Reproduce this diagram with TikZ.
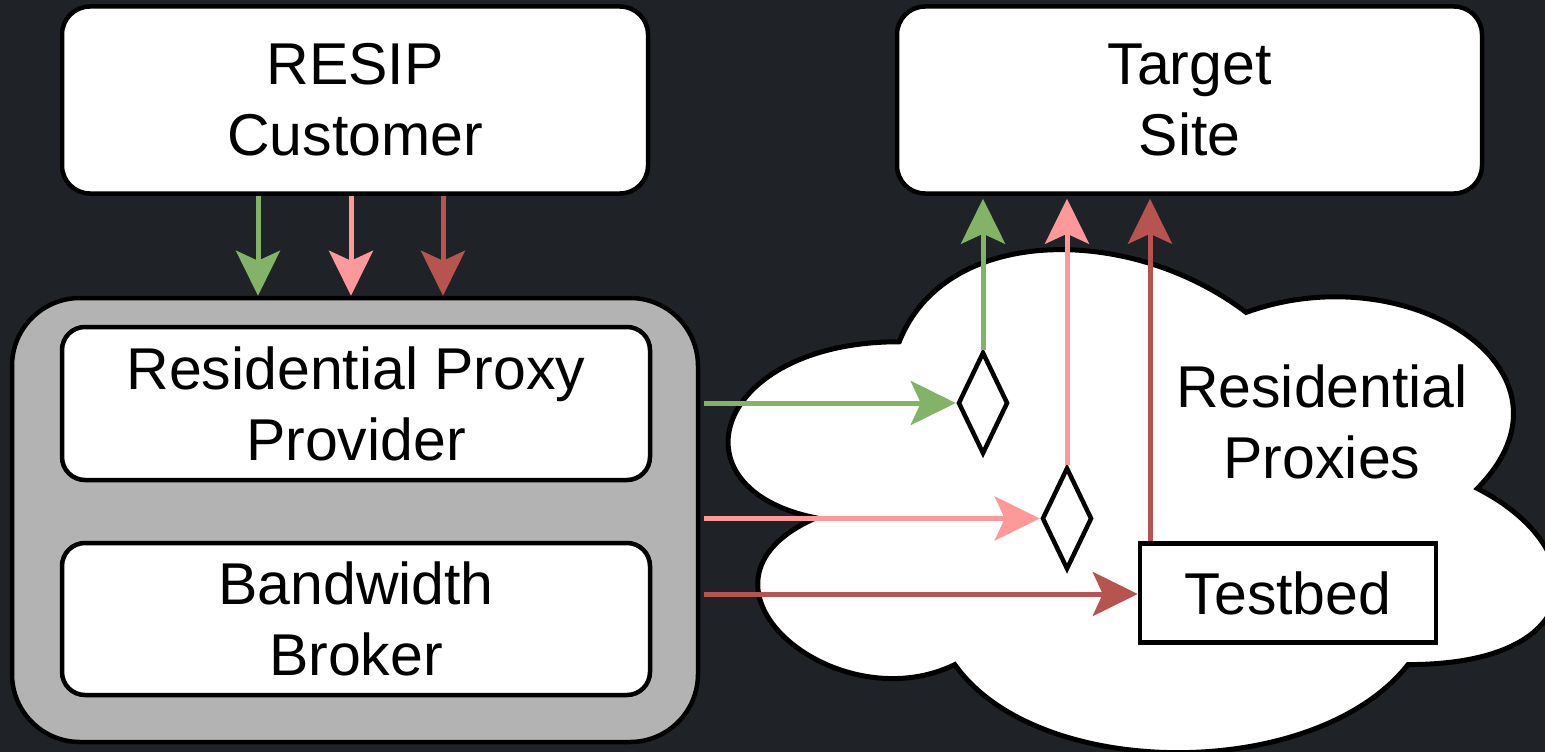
\documentclass[tikz,border=0pt]{standalone}
\usepackage{fontspec}
\setmainfont{Liberation Sans}
\usetikzlibrary{shapes.geometric,arrows.meta}
\definecolor{bg}{HTML}{1F2328}
\definecolor{cgreen}{HTML}{82B366}
\definecolor{cpink}{HTML}{FF9999}
\definecolor{cred}{HTML}{B85450}
\definecolor{cgray}{HTML}{B3B3B3}
\begin{document}
\begin{tikzpicture}[x=1pt,y=-1pt,
  txt/.style={font=\fontsize{59}{71}\selectfont, align=center, text=black},
  rbox/.style={draw=black, line width=4.5pt, fill=white, rounded corners=#1, inner sep=0pt, txt},
  rbox/.default=28pt,
  grpbox/.style={draw=black, line width=4.5pt, fill=cgray, rounded corners=68pt, inner sep=0pt},
  dia/.style={diamond, draw=black, line width=4.5pt, fill=white, minimum width=50pt, minimum height=102pt, inner sep=0pt},
  sqbox/.style={rectangle, draw=black, line width=4.5pt, fill=white, inner sep=0pt, txt},
  flow/.style={line width=5pt, -{Stealth[length=45pt,width=44pt,inset=10pt]}},
]
\useasboundingbox[fill=bg] (0,0) rectangle (1545,752);

% cloud
\begin{scope}
\clip (0,0) rectangle (1545,752);
\begin{scope}[xshift=668pt, yshift=-195pt, x=925pt, y=-587pt]
\draw[line width=5pt, fill=white, draw=black]
  (0.25,0.25) .. controls (0.05,0.25) and (0,0.5) .. (0.16,0.55)
  .. controls (0,0.66) and (0.18,0.9) .. (0.31,0.8)
  .. controls (0.4,1) and (0.7,1) .. (0.8,0.8)
  .. controls (1,0.8) and (1,0.6) .. (0.875,0.5)
  .. controls (1,0.3) and (0.8,0.1) .. (0.625,0.2)
  .. controls (0.5,0.05) and (0.3,0.05) .. (0.25,0.25) -- cycle;
\end{scope}
\end{scope}
\node[txt] (rp) at (1322,422) {Residential\\Proxies};

% boxes
\node[rbox, minimum width=586pt, minimum height=187pt] (cust) at (355,100) {RESIP\\Customer};
\node[rbox, minimum width=585pt, minimum height=187pt] (target) at (1189.5,100) {Target\\Site};
\node[grpbox, minimum width=686pt, minimum height=444pt] (grp) at (355,520) {};
\node[rbox=23pt, minimum width=588pt, minimum height=153pt] (rpp) at (356,403.5) {Residential Proxy\\Provider};
\node[rbox=23pt, minimum width=588pt, minimum height=152pt] (bb) at (356,619) {Bandwidth\\Broker};
\node[dia] (d1) at (983,403) {};
\node[dia] (d2) at (1067,518.5) {};
\node[sqbox, minimum width=296pt, minimum height=99pt] (tb) at (1288,593) {Testbed};

% helper coordinates
\coordinate (xa) at (258,0);
\coordinate (xb) at (351,0);
\coordinate (xc) at (443,0);
\coordinate (xd) at (1150,0);
\coordinate (yr) at (0,594);

% down arrows
\draw[flow, cgreen] (cust.south -| xa) -- (grp.north -| xa);
\draw[flow, cpink] (cust.south -| xb) -- (grp.north -| xb);
\draw[flow, cred] (cust.south -| xc) -- (grp.north -| xc);

% horizontal arrows
\draw[flow, cgreen, shorten <=4pt] (grp.east |- d1.west) -- (d1.west);
\draw[flow, cpink, shorten <=4pt] (grp.east |- d2.west) -- (d2.west);
\draw[flow, cred, shorten <=4pt] (grp.east |- yr) -- (tb.west |- yr);

% up arrows
\draw[flow, cgreen, shorten >=3pt] (d1.north) -- (target.south -| d1.north);
\draw[flow, cpink, shorten >=3pt] (d2.north) -- (target.south -| d2.north);
\draw[flow, cred, shorten >=3pt] (tb.north -| xd) -- (target.south -| xd);
\end{tikzpicture}
\end{document}
